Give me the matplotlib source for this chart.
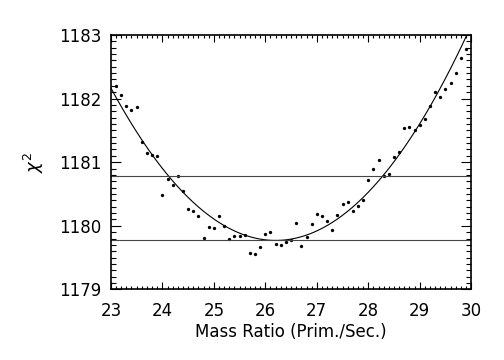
import numpy as np
import matplotlib
matplotlib.use('Agg')
import matplotlib.pyplot as plt
from matplotlib.ticker import MultipleLocator

# chi-square scan over the mass ratio
mass_ratio = [23.1, 23.2, 23.3, 23.4, 23.5, 23.6, 23.7, 23.8, 23.9, 24.0,
              24.1, 24.2, 24.3, 24.4, 24.5, 24.6, 24.7, 24.8, 24.9, 25.0,
              25.1, 25.2, 25.3, 25.4, 25.5, 25.6, 25.7, 25.8, 25.9, 26.0,
              26.1, 26.2, 26.3, 26.4, 26.5, 26.6, 26.7, 26.8, 26.9, 27.0,
              27.1, 27.2, 27.3, 27.4, 27.5, 27.6, 27.7, 27.8, 27.9, 28.0,
              28.1, 28.2, 28.3, 28.4, 28.5, 28.6, 28.7, 28.8, 28.9, 29.0,
              29.1, 29.2, 29.3, 29.4, 29.5, 29.6, 29.7, 29.8, 29.9]
chi2 = [1182.20, 1182.05, 1181.89, 1181.82, 1181.87, 1181.31, 1181.15, 1181.11, 1181.09, 1180.49,
        1180.73, 1180.64, 1180.79, 1180.55, 1180.26, 1180.23, 1180.16, 1179.81, 1179.98, 1179.97,
        1180.15, 1180.00, 1179.80, 1179.84, 1179.84, 1179.86, 1179.58, 1179.56, 1179.67, 1179.87,
        1179.91, 1179.72, 1179.70, 1179.74, 1179.78, 1180.04, 1179.68, 1179.82, 1180.03, 1180.19,
        1180.16, 1180.07, 1179.94, 1180.17, 1180.34, 1180.38, 1180.23, 1180.31, 1180.40, 1180.72,
        1180.90, 1181.03, 1180.78, 1180.82, 1181.08, 1181.16, 1181.53, 1181.56, 1181.50, 1181.58,
        1181.68, 1181.88, 1182.10, 1182.03, 1182.15, 1182.25, 1182.40, 1182.64, 1182.78]

# parabola fit: chi2 = a*(q - q0)^2 + c
fit_a, fit_q0, fit_c = 0.234, 26.2, 1179.77
levels = [1179.77, 1180.78]

fig = plt.figure(figsize=(5.04, 3.6), dpi=100)
ax = fig.add_axes([0.220, 0.196, 0.715, 0.707])

ax.plot(mass_ratio, chi2, 'o', color='black', markersize=2.4, markeredgewidth=0)

qq = np.linspace(23, 30, 400)
ax.plot(qq, fit_a * (qq - fit_q0) ** 2 + fit_c, color='black', linewidth=0.8)

for lev in levels:
    ax.axhline(lev, color='#444444', linewidth=0.8)

ax.set_xlim(23, 30)
ax.set_ylim(1179, 1183)
ax.xaxis.set_major_locator(MultipleLocator(1))
ax.xaxis.set_minor_locator(MultipleLocator(0.1))
ax.yaxis.set_major_locator(MultipleLocator(1))
ax.yaxis.set_minor_locator(MultipleLocator(0.1))
ax.tick_params(which='both', direction='in', top=True, right=True, width=0.8,
               labelsize=12)
ax.tick_params(axis='x', which='major', length=5, pad=9)
ax.tick_params(axis='x', which='minor', length=2.5)
ax.tick_params(axis='y', which='major', length=7, pad=7)
ax.tick_params(axis='y', which='minor', length=3.5)
for sp in ax.spines.values():
    sp.set_linewidth(1.2)

ax.set_xlabel('Mass Ratio (Prim./Sec.)', fontsize=12, labelpad=2)
ax.set_ylabel(r'$\chi^2$', fontsize=13, labelpad=9)

fig.savefig('out.png', dpi=100)
